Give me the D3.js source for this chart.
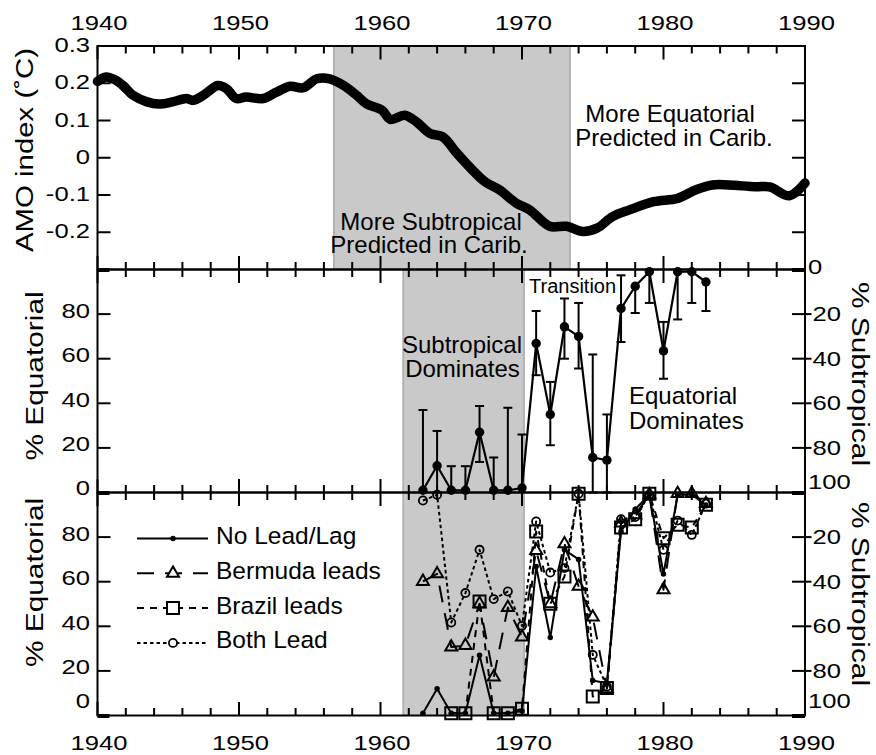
<!DOCTYPE html>
<html><head><meta charset="utf-8">
<script src="https://cdn.jsdelivr.net/npm/d3@7/dist/d3.min.js"></script>
<style>html,body{margin:0;padding:0;background:#fff;}svg{display:block;}</style>
</head><body>
<svg id="chart" width="876" height="755"></svg>
<script>
// ---------------- DATA ----------------
const amoYears = [1940.0,1940.6,1941.2,1941.8,1942.5,1943.5,1944.3,1945.3,1946.3,1946.75,1947.5,1948.5,1949.1,1949.8,1950.5,1951.7,1952.65,1953.6,1954.55,1955.5,1956.4,1957.4,1958.3,1959.0,1960.1,1960.7,1961.7,1962.55,1963.5,1964.4,1965.4,1966.5,1967.4,1968.4,1969.6,1970.55,1971.95,1973.15,1974.3,1975.3,1976.4,1977.6,1979.3,1981.0,1982.3,1983.45,1984.6,1986.5,1987.5,1988.9,1990.0];
const amoValues = [0.205,0.217,0.21,0.194,0.168,0.150,0.144,0.150,0.159,0.154,0.168,0.194,0.186,0.159,0.163,0.159,0.176,0.192,0.188,0.212,0.212,0.194,0.168,0.145,0.128,0.103,0.114,0.096,0.065,0.056,0.012,-0.033,-0.065,-0.086,-0.122,-0.140,-0.184,-0.184,-0.198,-0.189,-0.158,-0.140,-0.118,-0.109,-0.086,-0.073,-0.073,-0.078,-0.078,-0.102,-0.068];

const eqYears   = [1963,1964,1965,1966,1967,1968,1969,1970,1971,1972,1973,1974,1975,1976,1977,1978,1979,1980,1981,1982,1983];
const noLeadLag = [1,12,1,1,27,1,1,2,66.8,35,74.3,70,15.7,14.5,82.5,92.5,99,63.5,99,99,94.4];
const errHigh   = [37,27.6,11.8,11.8,38.8,15.7,38,26,81.4,49.6,87,85,61.9,35,97.4,null,null,76.5,null,null,null];
const errLow    = [null,0,null,null,13.7,null,null,null,52.6,21.2,60,55.6,0,0,67.5,80.5,85,51,77.6,85,81.4];
const bermudaLeads = [60.1,63.5,30.7,31.4,50.1,17.2,48.4,35.2,74,50.1,77,57.9,44.1,12,86.3,90,99,56.4,99.5,99.5,95];
const brazilLeads  = [null,null,1,1,51.1,1,1,3,82.5,50.1,62.3,99.4,8.5,12.3,84.3,88,99.4,79.5,85.5,84.3,94.5];
const bothLead     = [96.4,99,41.7,54.9,74.3,52.2,55.6,40.2,87,64.1,66.1,99.4,27.2,13,88,89,99,74.3,87.4,81,95];

const shadeTop = [1956.7, 1973.4];
const shadeLow = [1961.6, 1970.15];

const xMajorTicks = [1940,1950,1960,1970,1980,1990];
const xMinorTicks = [1942,1944,1946,1948,1952,1954,1956,1958,1962,1964,1966,1968,1972,1974,1976,1978,1982,1984,1986,1988];
const amoTicks  = [0.3,0.2,0.1,0,-0.1,-0.2];
const amoTickLabels = ["0.3","0.2","0.1","0","-0.1","-0.2"];
const pctTicks  = [80,60,40,20,0];
const subTicks  = [0,20,40,60,80,100];

const legendNames = ["No Lead/Lag","Bermuda leads","Brazil leads","Both Lead"];

// ---------------- LAYOUT ----------------
const FONT = "'Liberation Sans', Arial, Helvetica, sans-serif";
const L = 97.5, R = 805;
const T0 = 46, T1 = 269.5, M1 = 492.5, B1 = 715.5;
const svg = d3.select('#chart').style('font-family', FONT);

const x = d3.scaleLinear().domain([1940,1990]).range([L,R]);
const yTop = d3.scaleLinear().domain([-0.3,0.3]).range([T1,T0]);
const yMid = d3.scaleLinear().domain([0,100]).range([M1,T1]);
const yBot = d3.scaleLinear().domain([0,100]).range([B1,M1]);
const ySubMid = d3.scaleLinear().domain([0,100]).range([T1,M1]);
const ySubBot = d3.scaleLinear().domain([0,100]).range([M1,B1]);

svg.append('rect').attr('width',876).attr('height',755).attr('fill','#fff');

// shading
const SH = '#c9c9c9', SHE = '#a9a9a9';
svg.append('rect').attr('x',x(shadeTop[0])).attr('y',T0).attr('width',x(shadeTop[1])-x(shadeTop[0])).attr('height',T1-T0).attr('fill',SH);
svg.append('rect').attr('x',x(shadeLow[0])).attr('y',T1).attr('width',x(shadeLow[1])-x(shadeLow[0])).attr('height',B1-T1).attr('fill',SH);
[[shadeTop,T0,T1],[shadeLow,T1,B1]].forEach(([s,a,b])=>{
  s.forEach(v=>svg.append('line').attr('x1',x(v)).attr('x2',x(v)).attr('y1',a).attr('y2',b).attr('stroke',SHE).attr('stroke-width',1.5));
});

// ---------------- TEXT HELPER ----------------
function txt(str, tx, ty, o={}) {
  const size=o.size||21, anchor=o.anchor||'start', rot=o.rot||0, sx=o.sx||1;
  svg.append('text')
    .attr('transform',`translate(${tx},${ty}) rotate(${rot}) scale(${sx},1)`)
    .attr('text-anchor',anchor).attr('font-size',size).attr('fill','#000')
    .text(str);
}

// ---------------- ANNOTATIONS ----------------
txt('More Subtropical', 431, 229.5, {size:24, anchor:'middle'});
txt('Predicted in Carib.', 429, 252.5, {size:24, anchor:'middle'});
txt('More Equatorial', 670, 121.5, {size:24, anchor:'middle'});
txt('Predicted in Carib.', 674, 146, {size:24, anchor:'middle'});
txt('Subtropical', 462, 352.5, {size:24, anchor:'middle'});
txt('Dominates', 462.5, 377.3, {size:24, anchor:'middle'});
txt('Transition', 529, 293.3, {size:20});
txt('Equatorial', 629, 404, {size:24});
txt('Dominates', 629, 428.5, {size:24});

// ---------------- TOP PANEL: AMO ----------------
const amoData = amoYears.map((yr,i)=>({yr, v:amoValues[i]}));
svg.append('path').datum(amoData)
  .attr('d', d3.line().x(d=>x(d.yr)).y(d=>yTop(d.v)).curve(d3.curveCatmullRom.alpha(0.5)))
  .attr('fill','none').attr('stroke','#000').attr('stroke-width',9.5)
  .attr('stroke-linejoin','round').attr('stroke-linecap','round');

// ---------------- MIDDLE PANEL ----------------
const midData = eqYears.map((yr,i)=>({yr, v:noLeadLag[i], hi:errHigh[i], lo:errLow[i]}));
const eb = svg.append('g').attr('stroke','#000').attr('stroke-width',2);
midData.forEach(d=>{
  const cx=x(d.yr), cap=4.5;
  if (d.hi!=null) {
    eb.append('line').attr('x1',cx).attr('x2',cx).attr('y1',yMid(d.v)).attr('y2',yMid(d.hi));
    eb.append('line').attr('x1',cx-cap).attr('x2',cx+cap).attr('y1',yMid(d.hi)).attr('y2',yMid(d.hi));
  }
  if (d.lo!=null) {
    eb.append('line').attr('x1',cx).attr('x2',cx).attr('y1',yMid(d.v)).attr('y2',yMid(d.lo));
    eb.append('line').attr('x1',cx-cap).attr('x2',cx+cap).attr('y1',yMid(d.lo)).attr('y2',yMid(d.lo));
  }
});
svg.append('path').datum(midData)
  .attr('d', d3.line().x(d=>x(d.yr)).y(d=>yMid(d.v)))
  .attr('fill','none').attr('stroke','#000').attr('stroke-width',2.2).attr('stroke-linejoin','round');
svg.append('g').selectAll('circle').data(midData).join('circle')
  .attr('cx',d=>x(d.yr)).attr('cy',d=>yMid(d.v)).attr('r',4.7).attr('fill','#000');

// ---------------- BOTTOM PANEL ----------------
const series = [
  {name:legendNames[3], vals:bothLead, dash:'3.5,3', sym:d3.symbolCircle, size:52, fill:'none', sw:1.8},
  {name:legendNames[2], vals:brazilLeads, dash:'7,6', sym:d3.symbolSquare, size:144, fill:'none', sw:2},
  {name:legendNames[1], vals:bermudaLeads, dash:'17,11', sym:d3.symbolTriangle, size:62, fill:'none', sw:2},
  {name:legendNames[0], vals:noLeadLag, dash:null, sym:d3.symbolCircle, size:24, fill:'#000', sw:0}
];
series.forEach(s=>{
  const pts = eqYears.map((yr,i)=>({yr, v:s.vals[i]}));
  svg.append('path').datum(pts)
    .attr('d', d3.line().defined(d=>d.v!=null).x(d=>x(d.yr)).y(d=>yBot(d.v)))
    .attr('fill','none').attr('stroke','#000').attr('stroke-width',2)
    .attr('stroke-dasharray', s.dash).attr('stroke-linejoin','round');
  svg.append('g').selectAll('path').data(pts.filter(d=>d.v!=null)).join('path')
    .attr('transform',d=>`translate(${x(d.yr)},${yBot(d.v)})`)
    .attr('d', d3.symbol().type(s.sym).size(s.size)())
    .attr('fill', s.fill).attr('stroke','#000').attr('stroke-width', s.sw);
});

// legend
const legX0=137, legX1=208, legMk=173, legTx=216, legY0=538.5, legStep=34.8;
const legendOrder = [series[3],series[2],series[1],series[0]];
legendOrder.forEach((s,i)=>{
  const ly = legY0 + i*legStep;
  svg.append('line').attr('x1',legX0).attr('x2',legX1).attr('y1',ly).attr('y2',ly)
    .attr('stroke','#000').attr('stroke-width',2).attr('stroke-dasharray',s.dash);
  svg.append('path').attr('transform',`translate(${legMk},${ly})`)
    .attr('d', d3.symbol().type(s.sym).size(s.size)())
    .attr('fill', s.fill==='none' ? '#fff' : s.fill).attr('stroke','#000').attr('stroke-width',s.sw);
  txt(s.name, legTx, ly+5.5, {size:24.5});
});

// ---------------- FRAMES & TICKS ----------------
const ax = svg.append('g').attr('stroke','#000').attr('stroke-width',2).attr('fill','none');
[[T0,T1],[T1,M1],[M1,B1]].forEach(([a,b])=>{
  ax.append('rect').attr('x',L).attr('y',a).attr('width',R-L).attr('height',b-a);
  xMajorTicks.forEach(t=>{
    ax.append('line').attr('x1',x(t)).attr('x2',x(t)).attr('y1',a).attr('y2',a+13.5);
    ax.append('line').attr('x1',x(t)).attr('x2',x(t)).attr('y1',b).attr('y2',b-13.5);
  });
  xMinorTicks.forEach(t=>{
    ax.append('line').attr('x1',x(t)).attr('x2',x(t)).attr('y1',a).attr('y2',a+7.5);
    ax.append('line').attr('x1',x(t)).attr('x2',x(t)).attr('y1',b).attr('y2',b-7.5);
  });
});
amoTicks.slice(1).forEach(t=>{
  ax.append('line').attr('x1',L).attr('x2',L+13).attr('y1',yTop(t)).attr('y2',yTop(t));
  ax.append('line').attr('x1',R).attr('x2',R-13).attr('y1',yTop(t)).attr('y2',yTop(t));
});
[20,40,60,80].forEach(t=>{
  [yMid,yBot].forEach(sc=>{
    ax.append('line').attr('x1',L).attr('x2',L+13).attr('y1',sc(t)).attr('y2',sc(t));
  });
  [ySubMid,ySubBot].forEach(sc=>{
    ax.append('line').attr('x1',R-13).attr('x2',R+6.5).attr('y1',sc(t)).attr('y2',sc(t));
  });
});
[T1,M1,B1].forEach(yy=>{
  svg.append('rect').attr('x',L).attr('y',yy-1.5).attr('width',12).attr('height',4).attr('fill','#000');
  svg.append('rect').attr('x',R-13).attr('y',yy-1.5).attr('width',13).attr('height',4).attr('fill','#000');
});

// ---------------- TICK LABELS ----------------
const TS = 21, SX = 1.22;
xMajorTicks.forEach(t=>{
  txt(String(t), x(t)+1.5, 30, {size:TS, anchor:'middle', sx:SX});
  txt(String(t), x(t)+1.5, 750, {size:TS, anchor:'middle', sx:SX});
});
amoTicks.forEach((t,i)=>{
  txt(amoTickLabels[i], 90, yTop(t)+6, {size:TS, anchor:'end', sx:SX});
});
pctTicks.forEach(t=>{
  txt(String(t), 90, t===0 ? yMid(t)+2 : yMid(t)+3.5, {size:TS, anchor:'end', sx:SX});
  txt(String(t), 90, t===0 ? yBot(t)-7.5 : yBot(t)+3.5, {size:TS, anchor:'end', sx:SX});
});
subTicks.forEach(t=>{
  const edge = (t===0||t===100);
  let by = ySubMid(t)+7;
  if (t===0) by = ySubMid(t)+4.7;
  if (t===100) by = ySubMid(t)-3.5;
  txt(String(t), edge?808:812.5, by, {size:TS, sx:SX});
  if (t>0) {
    let bb = t===100 ? ySubBot(t)-8 : ySubBot(t)+7;
    txt(String(t), t===100?808:812.5, bb, {size:TS, sx:SX});
  }
});

// ---------------- AXIS TITLES ----------------
txt('AMO index (˚C)', 33.3, 150, {size:23.5, anchor:'middle', rot:-90, sx:1.25});
txt('% Equatorial', 43, 376, {size:23.5, anchor:'middle', rot:-90, sx:1.27});
txt('% Equatorial', 43, 582.5, {size:23.5, anchor:'middle', rot:-90, sx:1.27});
txt('% Subtropical', 851.5, 374, {size:23.5, anchor:'middle', rot:90, sx:1.27});
txt('% Subtropical', 851.5, 594, {size:23.5, anchor:'middle', rot:90, sx:1.27});
</script>
</body></html>
